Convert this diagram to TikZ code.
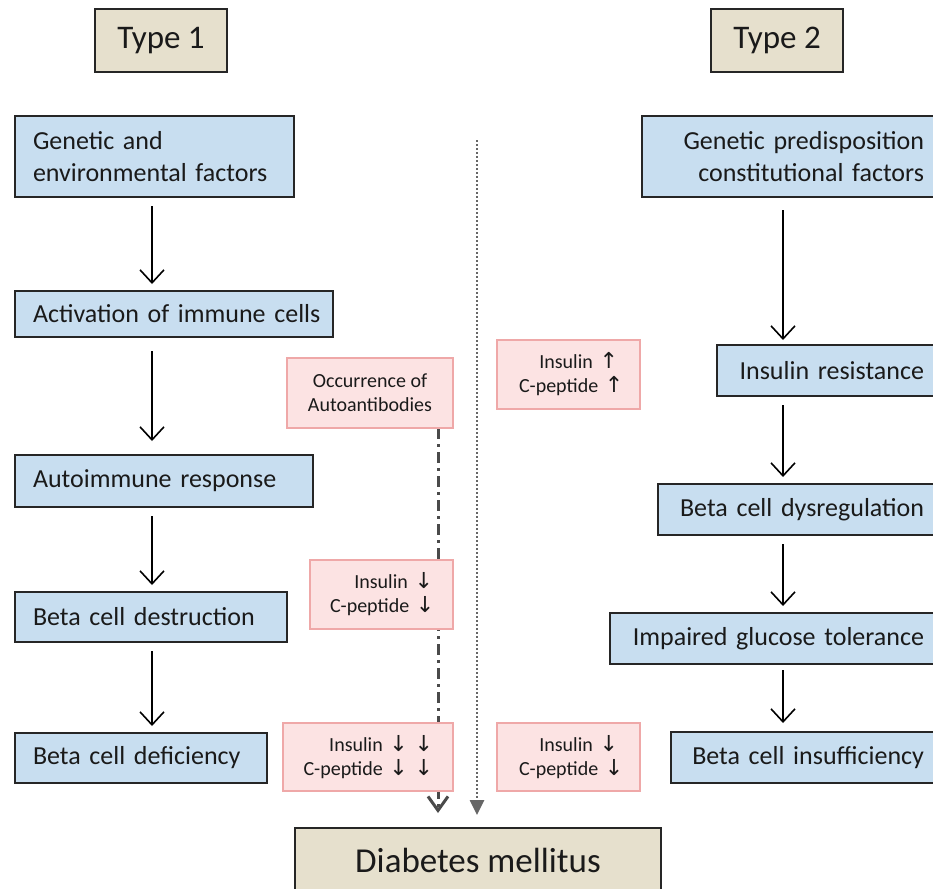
\documentclass[tikz,border=0pt]{standalone}
\usepackage{fontspec}
\setmainfont{Carlito}
\newfontfamily\arrfont{DejaVu Sans}
\usetikzlibrary{arrows.meta,backgrounds}
\definecolor{boxblue}{HTML}{C8DEF0}
\definecolor{boxbeige}{HTML}{E6E0CD}
\definecolor{boxpink}{HTML}{FCE3E3}
\definecolor{pinkline}{HTML}{EFA8A8}
\definecolor{boxline}{HTML}{262626}
\definecolor{txt}{HTML}{1A1A1A}
\definecolor{guide}{HTML}{666666}
\definecolor{dguide}{HTML}{4A4A4A}
\newcommand{\uarr}{{\arrfont\fontsize{22}{22}\selectfont ↑}}
\newcommand{\darr}{{\arrfont\fontsize{22}{22}\selectfont ↓}}
\tikzset{
  base/.style={rectangle, outer sep=0pt, text=txt},
  bluebox/.style={base, fill=boxblue, draw=boxline, line width=1.6pt,
    font=\fontsize{26}{32}\selectfont, inner ysep=0pt},
  lbox/.style={bluebox, inner xsep=18pt, align=left},
  rbox/.style={bluebox, inner xsep=16pt, align=right},
  pinkbox/.style={base, fill=boxpink, draw=pinkline, line width=1.3pt,
    font=\fontsize{20}{24}\selectfont, inner ysep=0pt},
  beigebox/.style={base, fill=boxbeige, draw=boxline, line width=1.8pt, inner sep=0pt},
  flow/.style={-{Straight Barb[length=13pt,width=24pt]}, line width=1.6pt, black,
    shorten <=9pt, shorten >=7pt},
  dotguide/.style={-{Triangle[length=15pt,width=14pt]}, guide, line width=2.6pt,
    dash pattern=on 2pt off 2pt},
  dashguide/.style={-{Straight Barb[length=14pt,width=20pt,line width=3pt]}, dguide, line width=3pt,
    dash pattern=on 11pt off 5pt on 3pt off 5pt},
}
\begin{document}
\begin{tikzpicture}[x=1pt,y=-1pt]
\useasboundingbox (0,0) rectangle (933,888);
\clip (0,0) rectangle (933,888);

% headers
\node[beigebox, minimum width=132pt, minimum height=63pt, font=\fontsize{33}{36}\selectfont] (type1) at (161,40.5) {Type 1};
\node[beigebox, minimum width=132pt, minimum height=63pt, font=\fontsize{33}{36}\selectfont] (type2) at (777,40.5) {Type 2};
\node[beigebox, minimum width=366pt, minimum height=64pt, font=\fontsize{35}{38}\selectfont] (dm) at (478,860) {Diabetes mellitus};

% type 1 column
\node[lbox, text width=243pt, minimum height=81pt] (g1) at (154.5,156.5) {\mbox{Genetic and}\\\mbox{environmental factors}};
\node[lbox, text width=282pt, minimum height=46pt] (act) at (174,314) {\mbox{Activation of immune cells}};
\node[lbox, text width=262pt, minimum height=52pt] (ai) at (164,481) {\mbox{Autoimmune response}};
\node[lbox, text width=236pt, minimum height=50pt] (bdes) at (151,617) {\mbox{Beta cell destruction}};
\node[lbox, text width=216pt, minimum height=50pt] (bdef) at (141,758) {\mbox{Beta cell deficiency}};

% type 2 column
\node[rbox, text width=266pt, minimum height=81pt] (gp) at (791,156.5) {\mbox{Genetic predisposition}\\\mbox{constitutional factors}};
\node[rbox, text width=191pt, minimum height=51pt] (ir) at (828.5,370.5) {\mbox{Insulin resistance}};
\node[rbox, text width=250pt, minimum height=51pt] (bd) at (799,509.5) {\mbox{Beta cell dysregulation}};
\node[rbox, text width=298pt, minimum height=51pt] (igt) at (775,638.5) {\mbox{Impaired glucose tolerance}};
\node[rbox, text width=237pt, minimum height=51pt] (bi) at (805.5,757.5) {\mbox{Beta cell insufficiency}};

% pink markers
\node[pinkbox, minimum width=166pt, minimum height=70pt, align=center] (occ) at (370,393) {Occurrence of\\Autoantibodies};
\node[pinkbox, inner xsep=22pt, text width=99pt, minimum height=69pt, align=right] (iu) at (568.5,374.5) {\mbox{Insulin \uarr}\\\mbox{C-peptide \uarr}};
\node[pinkbox, inner xsep=20pt, text width=103pt, minimum height=69pt, align=right] (id) at (381.5,594.5) {\mbox{Insulin \darr}\\\mbox{C-peptide \darr}};
\node[pinkbox, inner xsep=20pt, text width=130pt, minimum height=68pt, align=right] (idd) at (368,757) {\mbox{Insulin \darr\ \darr}\\\mbox{C-peptide \darr\ \darr}};
\node[pinkbox, inner xsep=22pt, text width=99pt, minimum height=68pt, align=right] (id2) at (568.5,757) {\mbox{Insulin \darr}\\\mbox{C-peptide \darr}};

% helper coordinates
\coordinate (lx) at (152,0);
\coordinate (rx) at (783,0);
\coordinate (dashx) at (438,0);
\coordinate (dotstart) at (477,140);

% flow arrows
\draw[flow] (g1.south -| lx) -- (act.north -| lx);
\draw[flow, shorten <=14pt, shorten >=14pt] (act.south -| lx) -- (ai.north -| lx);
\draw[flow] (ai.south -| lx) -- (bdes.north -| lx);
\draw[flow] (bdes.south -| lx) -- (bdef.north -| lx);

\draw[flow, shorten <=13pt, shorten >=5pt] (gp.south -| rx) -- (ir.north -| rx);
\draw[flow] (ir.south -| rx) -- (bd.north -| rx);
\draw[flow] (bd.south -| rx) -- (igt.north -| rx);
\draw[flow, shorten <=6pt, shorten >=9pt] (igt.south -| rx) -- (bi.north -| rx);

% guide lines behind the marker boxes
\begin{pgfonlayer}{background}
\fill[white] (0,0) rectangle (933,888);
\draw[dotguide, shorten >=13pt] (dotstart) -- (dm.north -| dotstart);
\draw[dashguide, shorten >=15pt] (occ.south -| dashx) -- (dm.north -| dashx);
\end{pgfonlayer}
\end{tikzpicture}
\end{document}
